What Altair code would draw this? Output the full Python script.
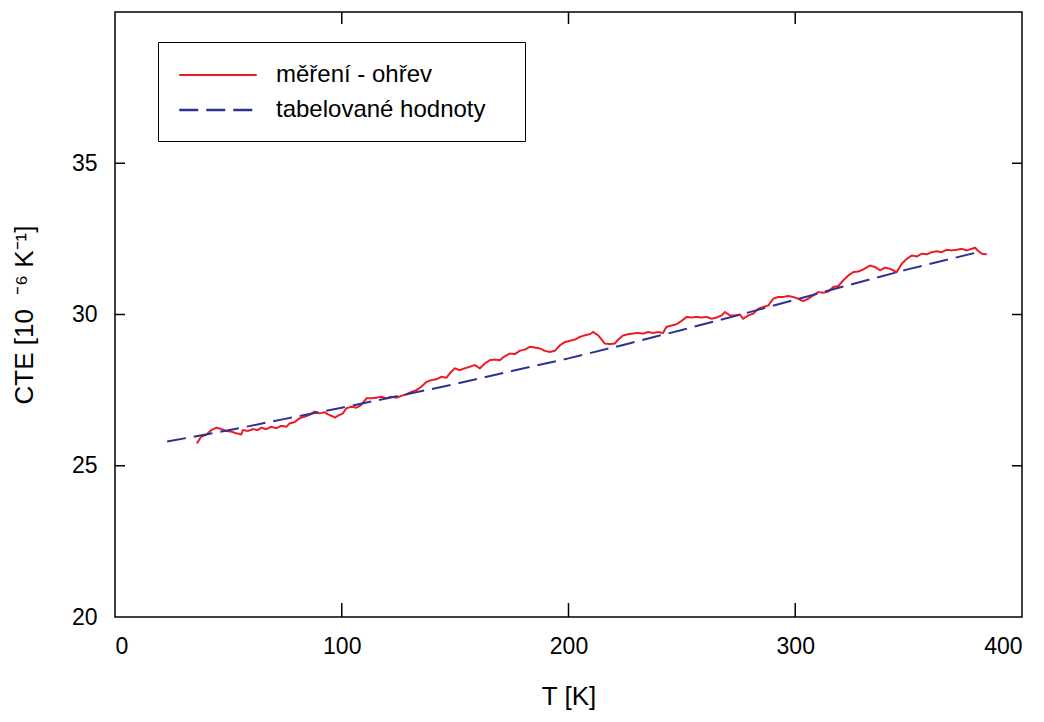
import altair as alt
import pandas as pd

# ---- data ----
series_names = ["měření - ohřev", "tabelované hodnoty"]
series_colors = ["#ED1C24", "#2E3192"]

meas_T = [36.1, 38.0, 40.2, 42.5, 44.7, 46.9, 49.1, 51.3, 53.5, 55.7, 56.4, 58.6, 60.8, 63.0, 64.5,
          66.7, 68.9, 71.1, 73.3, 75.6, 77.0, 79.2, 81.4, 83.6, 85.8, 88.0, 90.2, 92.5, 93.9,
          94.7, 96.9, 99.1, 100.5, 102.0, 104.2, 106.4, 108.6, 110.9, 113.1, 115.3, 117.5, 119.7,
          121.9, 124.1, 126.3, 128.5, 130.7, 132.9, 135.1, 137.3, 139.5, 141.7, 144.0, 146.2,
          147.6, 149.8, 152.0,
          154.2, 156.4, 158.6, 160.9, 163.1, 165.3, 167.5, 169.7, 171.9, 174.1, 176.3, 178.5,
          180.7, 182.9, 185.1, 187.3, 189.5, 191.7, 194.0, 196.2, 198.4, 200.6, 202.8, 205.0,
          207.2, 209.4, 210.9, 213.1,
          216.0, 218.2, 220.4, 221.9, 224.1, 226.3, 228.5, 230.7, 232.9, 235.1, 237.3, 239.5,
          241.7, 243.2, 245.5, 247.7, 249.9, 252.1, 254.3, 256.5, 258.7, 260.9, 263.1, 265.3,
          267.5, 269.0, 271.2,
          273.4, 275.6, 277.0, 279.3, 281.5, 283.7, 285.9, 288.1, 290.3, 292.5, 294.7, 296.9,
          299.1, 301.3, 303.5, 305.7, 307.9, 310.1, 312.4, 314.6, 316.8, 319.0, 321.2, 323.4,
          325.6, 327.8, 330.0,
          333.0, 335.2, 337.4, 339.6, 341.8, 343.2, 344.7, 347.0, 349.2, 351.4, 353.6, 355.8,
          358.0, 360.2, 362.4, 364.6, 366.8, 369.0, 371.2, 373.4, 375.6, 377.8, 379.3, 380.8,
          382.3, 384.5]

meas_cte = [25.74, 25.96, 26.02, 26.18, 26.26, 26.21, 26.15, 26.13, 26.07, 26.04, 26.18, 26.15,
            26.21, 26.18, 26.26, 26.21, 26.29, 26.24, 26.32, 26.29, 26.40, 26.44, 26.57, 26.62,
            26.68, 26.79, 26.73, 26.77, 26.70,
            26.68, 26.59, 26.68, 26.73, 26.90, 26.95, 26.92, 27.01, 27.23, 27.23, 27.25, 27.28,
            27.23, 27.28, 27.25, 27.31, 27.36, 27.44, 27.50, 27.61, 27.77, 27.83, 27.86, 27.94,
            27.91, 28.05, 28.22, 28.16,
            28.22, 28.27, 28.33, 28.22, 28.38, 28.49, 28.51, 28.49, 28.62, 28.71, 28.69, 28.80,
            28.84, 28.93, 28.91, 28.88, 28.80, 28.76, 28.80, 28.98, 29.09, 29.13, 29.17, 29.26,
            29.31, 29.35, 29.42, 29.31,
            29.04, 29.02, 29.04, 29.17, 29.31, 29.35, 29.37, 29.39, 29.37, 29.42, 29.39, 29.42,
            29.39, 29.59, 29.64, 29.68, 29.79, 29.92, 29.90, 29.92, 29.90, 29.92, 29.86, 29.90,
            29.97, 30.08, 29.97,
            29.97, 30.00, 29.86, 29.97, 30.03, 30.19, 30.25, 30.30, 30.52, 30.58, 30.58, 30.61,
            30.58, 30.52, 30.44, 30.52, 30.63, 30.74, 30.72, 30.76, 30.91, 30.94, 31.13, 31.29,
            31.40, 31.42, 31.49,
            31.62, 31.57, 31.46, 31.55, 31.51, 31.46, 31.40, 31.68, 31.84, 31.95, 31.92, 32.01,
            31.99, 32.06, 32.09, 32.06, 32.14, 32.12, 32.14, 32.17, 32.12, 32.17, 32.21, 32.09,
            32.01, 31.99]

tab_T = [23, 50, 75, 100, 125, 150, 175, 200, 225, 250, 275, 300, 325, 350, 380]
tab_cte = [25.80, 26.17, 26.55, 26.92, 27.31, 27.70, 28.13, 28.55, 29.01, 29.49, 29.98,
           30.49, 31.00, 31.50, 32.05]

x_tick_values = [0, 100, 200, 300, 400]
y_tick_values = [20, 25, 30, 35]
x_inner_ticks = [100, 200, 300]
y_inner_ticks = [25, 30, 35]

x_title = "T [K]"
y_title = "CTE [10\u00a0\u00a0\u207b\u2076 K\u207b\u00b9]"

# ---- tables ----
df = pd.concat([
    pd.DataFrame({"T": meas_T, "CTE": meas_cte, "series": series_names[0]}),
    pd.DataFrame({"T": tab_T, "CTE": tab_cte, "series": series_names[1]}),
], ignore_index=True)
xt = pd.DataFrame({"T": x_inner_ticks})
yt = pd.DataFrame({"CTE": y_inner_ticks})

W, H = 907, 605
FONT = "Liberation Sans"

xscale = alt.Scale(domain=[0, 400], nice=False)
yscale = alt.Scale(domain=[20, 40], nice=False)

# invisible (white) spacer title widens the legend box to the reference's width
legend = alt.Legend(
    title="." * 610, titleFontSize=2, titleColor="white", titlePadding=0, titleLimit=1000,
    orient="none", legendX=43, legendY=30,
    symbolType="stroke", symbolSize=6000, symbolStrokeWidth=2,
    labelFontSize=24, labelFont=FONT, labelColor="black", labelOffset=18,
    labelLimit=600,
    strokeColor="black", fillColor="white", padding=14, clipHeight=34, rowPadding=1,
    symbolOffset=6,
)

xaxis = alt.Axis(values=x_tick_values, tickSize=0, domain=False, grid=False, labelPadding=18,
                 title=x_title, titlePadding=25)
yaxis = alt.Axis(values=y_tick_values, tickSize=0, domain=False, grid=False, labelPadding=18,
                 title=y_title, titlePadding=34)

lines = alt.Chart(df).mark_line(strokeWidth=2).encode(
    x=alt.X("T:Q", scale=xscale, axis=xaxis),
    y=alt.Y("CTE:Q", scale=yscale, axis=yaxis),
    color=alt.Color("series:N", scale=alt.Scale(domain=series_names, range=series_colors), legend=legend),
    strokeDash=alt.StrokeDash("series:N", scale=alt.Scale(domain=series_names, range=[[1, 0], [19, 8]]),
                              legend=legend),
    strokeWidth=alt.StrokeWidth("series:N", scale=alt.Scale(domain=series_names, range=[1.8, 2.4]),
                                legend=None),
)

tick_style = dict(color="black", strokeWidth=1.5)
bottom_ticks = alt.Chart(xt).mark_rule(**tick_style).encode(
    x=alt.X("T:Q", scale=xscale, axis=xaxis), y=alt.value(H), y2=alt.value(H - 14))
top_ticks = alt.Chart(xt).mark_rule(**tick_style).encode(
    x=alt.X("T:Q", scale=xscale, axis=xaxis), y=alt.value(0), y2=alt.value(12))
left_ticks = alt.Chart(yt).mark_rule(**tick_style).encode(
    y=alt.Y("CTE:Q", scale=yscale, axis=yaxis), x=alt.value(0), x2=alt.value(10))
right_ticks = alt.Chart(yt).mark_rule(**tick_style).encode(
    y=alt.Y("CTE:Q", scale=yscale, axis=yaxis), x=alt.value(W), x2=alt.value(W - 10))

chart = alt.layer(lines, bottom_ticks, top_ticks, left_ticks, right_ticks).properties(
    width=W, height=H,
    autosize=alt.AutoSizeParams(type="none"),
    padding={"left": 107, "top": 4, "right": 10, "bottom": 98},
    background="white",
).configure_view(
    stroke="black", strokeWidth=1.5
).configure_axis(
    labelFont=FONT, labelFontSize=23, labelColor="black",
    titleFont=FONT, titleFontSize=26, titleFontWeight="normal", titleColor="black",
)

chart.save("out.html", embed_options={"renderer": "svg", "actions": False})
